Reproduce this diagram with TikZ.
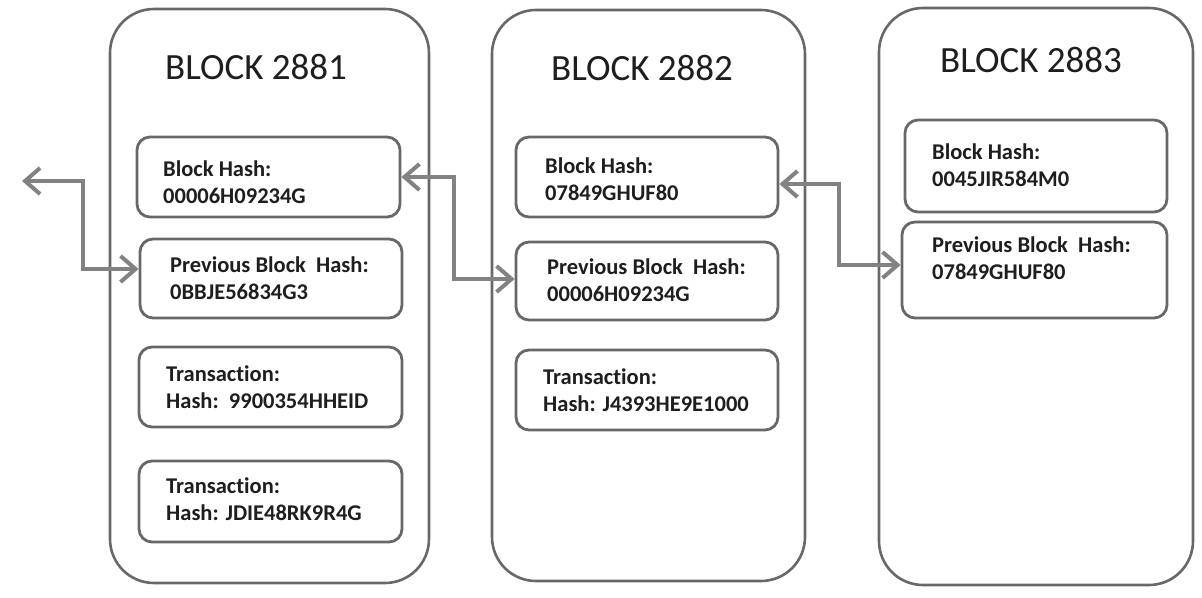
\documentclass[tikz,border=0pt]{standalone}
\usepackage{fontspec}
\setmainfont{Carlito}[Ligatures={NoCommon}]
\usetikzlibrary{arrows.meta}
\definecolor{edgegray}{HTML}{686868}
\definecolor{linkgray}{HTML}{828282}
\definecolor{inkdark}{HTML}{1E1E1E}
\tikzset{
  blockbox/.style={draw=edgegray, line width=2.6pt, rounded corners=44pt, fill=white},
  hashbox/.style={draw=edgegray, line width=2.8pt, rounded corners=13pt},
  blocktitle/.style={font=\fontsize{37}{40}\selectfont, text=inkdark, inner sep=0pt},
  % anchored at the baseline of the second (last) line
  hashtext/.style={font=\fontsize{22.5}{26.5}\selectfont\bfseries, text=inkdark,
    align=left, inner sep=0pt, anchor=base west},
  link/.style={draw=linkgray, line width=4pt,
    {Straight Barb[length=15pt, width=26pt, line width=4pt]}-{Straight Barb[length=15pt, width=26pt, line width=4pt]}}
}
\begin{document}
\begin{tikzpicture}[x=1pt, y=-1pt]
\useasboundingbox (0,0) rectangle (1202,597);

% outer block frames
\node[blockbox, minimum width=319pt, minimum height=574pt] (blk1) at (269.5,296) {};
\node[blockbox, minimum width=313pt, minimum height=571pt] (blk2) at (648.5,295.5) {};
\node[blockbox, minimum width=314pt, minimum height=577pt] (blk3) at (1036,296.5) {};

% titles
\node[blocktitle, anchor=base] (t1) at (256,79) {BLOCK 2881};
\node[blocktitle, anchor=base] (t2) at (642,80) {BLOCK 2882};
\node[blocktitle, anchor=base] (t3) at (1031,72) {BLOCK 2883};

% block 2881 fields
\node[hashbox, minimum width=263pt, minimum height=80pt] (b1h) at (268.5,177) {};
\node[hashbox, minimum width=262pt, minimum height=79pt] (b1p) at (271,278.5) {};
\node[hashbox, minimum width=263pt, minimum height=80pt] (b1t1) at (270.5,387) {};
\node[hashbox, minimum width=263pt, minimum height=81pt] (b1t2) at (270.5,501.5) {};
\node[hashtext] (b1hx) at (163,203) {Block Hash:\\00006H09234G};
\node[hashtext] (b1px) at (170,299) {Previous Block\ \ Hash:\\0BBJE56834G3};
\node[hashtext] (b1t1x) at (166,408) {Transaction:\\Hash:\ \ 9900354HHEID};
\node[hashtext] (b1t2x) at (166,520) {Transaction:\\Hash: JDIE48RK9R4G};

% block 2882 fields
\node[hashbox, minimum width=262pt, minimum height=80pt] (b2h) at (647,177) {};
\node[hashbox, minimum width=262pt, minimum height=78pt] (b2p) at (647,281) {};
\node[hashbox, minimum width=262pt, minimum height=80pt] (b2t) at (647,390) {};
\node[hashtext] (b2hx) at (545,200) {Block Hash:\\07849GHUF80};
\node[hashtext] (b2px) at (547,301) {Previous Block\ \ Hash:\\00006H09234G};
\node[hashtext] (b2tx) at (543,411) {Transaction:\\Hash: J4393HE9E1000};

% block 2883 fields
\node[hashbox, minimum width=262pt, minimum height=92pt] (b3h) at (1036,166) {};
\node[hashbox, minimum width=265pt, minimum height=96pt] (b3p) at (1034.5,270) {};
\node[hashtext] (b3hx) at (932,186) {Block Hash:\\0045JIR584M0};
\node[hashtext] (b3px) at (932,279) {Previous Block\ \ Hash:\\07849GHUF80};

% chain links
\coordinate (prev0) at (22,181);
\draw[link] (prev0) -- ++(61,0) |- ([yshift=9.5pt]b1p.west);
\draw[link] (b1h.east) -- ++(53,0) |- ([yshift=2pt]b2p.west);
\draw[link] ([yshift=-7pt]b2h.east) -- ++(60,0) |- ([yshift=5pt]b3p.west);
\end{tikzpicture}
\end{document}
